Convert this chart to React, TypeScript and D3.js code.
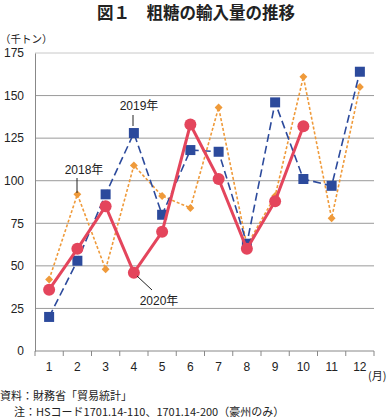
import React, { useEffect, useRef } from 'react';
import * as d3 from 'd3';

const months = ['1', '2', '3', '4', '5', '6', '7', '8', '9', '10', '11', '12'];
const yTicks = [0, 25, 50, 75, 100, 125, 150, 175];

// 千トン
const v2018 = [42, 92, 48, 109, 91, 84, 143, 62, 91, 161, 78, 155];
const v2019 = [20, 53, 92, 128, 80, 118, 117, 63, 146, 101, 97, 164];
const v2020 = [36, 60, 85, 46, 70, 133, 101, 60, 88, 132];

const FONT = '"Liberation Sans", Arial, "Noto Sans CJK JP", sans-serif';
const JFONT = '"Noto Sans CJK JP", sans-serif';

export default function App() {
  const ref = useRef<SVGSVGElement>(null);

  useEffect(() => {
    const svg = d3.select(ref.current);
    svg.selectAll('*').remove();

    const margin = { top: 53, right: 15, bottom: 68, left: 35 };
    const W = 389, H = 419;
    const width = W - margin.left - margin.right;
    const height = H - margin.top - margin.bottom;

    const x = d3.scaleBand().domain(months).range([0, width]);
    const y = d3.scaleLinear().domain([0, 175]).range([height, 0]);
    const cx = (i: number) => (x(months[i]) as number) + x.bandwidth() / 2;

    // title
    svg.append('text')
      .attr('x', 196).attr('y', 19)
      .attr('text-anchor', 'middle')
      .attr('font-family', JFONT).attr('font-weight', 'bold')
      .attr('font-size', 16.5).attr('fill', '#222')
      .text('図１　粗糖の輸入量の推移');

    svg.append('text')
      .attr('x', 0).attr('y', 43)
      .attr('font-family', JFONT).attr('font-size', 10.5).attr('fill', '#222')
      .text('（千トン）');

    const g = svg.append('g')
      .attr('transform', 'translate(' + margin.left + ',' + margin.top + ')');

    // grid
    g.selectAll('.grid').data(yTicks.filter(t => t > 0)).enter()
      .append('line')
      .attr('x1', 0).attr('x2', width)
      .attr('y1', d => y(d)).attr('y2', d => y(d))
      .attr('stroke', d => d === 175 ? '#c8c8c8' : '#9a9a9a')
      .attr('stroke-width', 1);

    // y axis
    g.append('g')
      .call(d3.axisLeft(y).tickValues(yTicks).tickSize(0).tickPadding(11))
      .call(a => a.select('.domain').attr('stroke', '#888'))
      .call(a => a.selectAll('text')
        .attr('font-family', FONT).attr('font-size', 12).attr('fill', '#222'));

    // x axis
    const xa = g.append('g').attr('transform', 'translate(0,' + height + ')');
    xa.append('line').attr('x1', 0).attr('x2', width).attr('stroke', '#888');
    xa.selectAll('.tk').data(d3.range(months.length + 1)).enter()
      .append('line')
      .attr('x1', i => i * x.step()).attr('x2', i => i * x.step())
      .attr('y1', 0).attr('y2', 5).attr('stroke', '#888');
    xa.selectAll('.lb').data(months).enter()
      .append('text')
      .attr('x', (d, i) => cx(i)).attr('y', 20)
      .attr('text-anchor', 'middle')
      .attr('font-family', FONT).attr('font-size', 12).attr('fill', '#222')
      .text(d => d);
    svg.append('text')
      .attr('x', 368).attr('y', 380)
      .attr('font-family', JFONT).attr('font-size', 11).attr('fill', '#222')
      .text('(月)');

    const lineGen = d3.line<number>()
      .x((d, i) => cx(i))
      .y(d => y(d));

    // 2018
    g.append('path').attr('d', lineGen(v2018))
      .attr('fill', 'none').attr('stroke', '#ef9a3a')
      .attr('stroke-width', 1.6).attr('stroke-dasharray', '3,2');
    g.selectAll('.d18').data(v2018).enter()
      .append('path')
      .attr('d', d3.symbol(d3.symbolDiamond2, 40)() as string)
      .attr('transform', (d, i) => 'translate(' + cx(i) + ',' + y(d) + ')')
      .attr('fill', '#ef9a3a');

    // 2019
    g.append('path').attr('d', lineGen(v2019))
      .attr('fill', 'none').attr('stroke', '#2c4a9c')
      .attr('stroke-width', 1.6).attr('stroke-dasharray', '8,4');
    g.selectAll('.s19').data(v2019).enter()
      .append('rect')
      .attr('x', (d, i) => cx(i) - 5).attr('y', d => y(d) - 5)
      .attr('width', 10).attr('height', 10)
      .attr('fill', '#2c4a9c');

    // 2020
    g.append('path').attr('d', lineGen(v2020))
      .attr('fill', 'none').attr('stroke', '#e4455c')
      .attr('stroke-width', 3);
    g.selectAll('.c20').data(v2020).enter()
      .append('circle')
      .attr('cx', (d, i) => cx(i)).attr('cy', d => y(d))
      .attr('r', 6).attr('fill', '#e4455c');

    // labels
    const lab = (t: string, tx: number, ty: number) =>
      svg.append('text').attr('x', tx).attr('y', ty)
        .attr('text-anchor', 'middle')
        .attr('font-family', FONT).attr('font-size', 12).attr('fill', '#222')
        .text(t);
    const conn = (x1: number, y1: number, x2: number, y2: number) =>
      svg.append('line').attr('x1', x1).attr('y1', y1).attr('x2', x2).attr('y2', y2)
        .attr('stroke', '#222').attr('stroke-width', 1);

    lab('2019年', 139, 110);
    conn(133, 115, 133, 126);
    lab('2018年', 84, 174);
    conn(77, 178, 77, 193);
    lab('2020年', 159, 305);
    conn(137, 276, 152, 290);

    // footer
    svg.append('text').attr('x', 0).attr('y', 399.5)
      .attr('font-family', JFONT).attr('font-size', 11).attr('fill', '#222')
      .text('資料：財務省「貿易統計」');
    svg.append('text').attr('x', 14).attr('y', 416)
      .attr('font-family', JFONT).attr('font-size', 11).attr('fill', '#222')
      .text('注：HSコード1701.14-110、1701.14-200（豪州のみ）');
  }, []);

  return (
    <svg ref={ref} width={389} height={419}
      style={{ position: 'absolute', left: 0, top: 0, background: '#fff' }} />
  );
}
